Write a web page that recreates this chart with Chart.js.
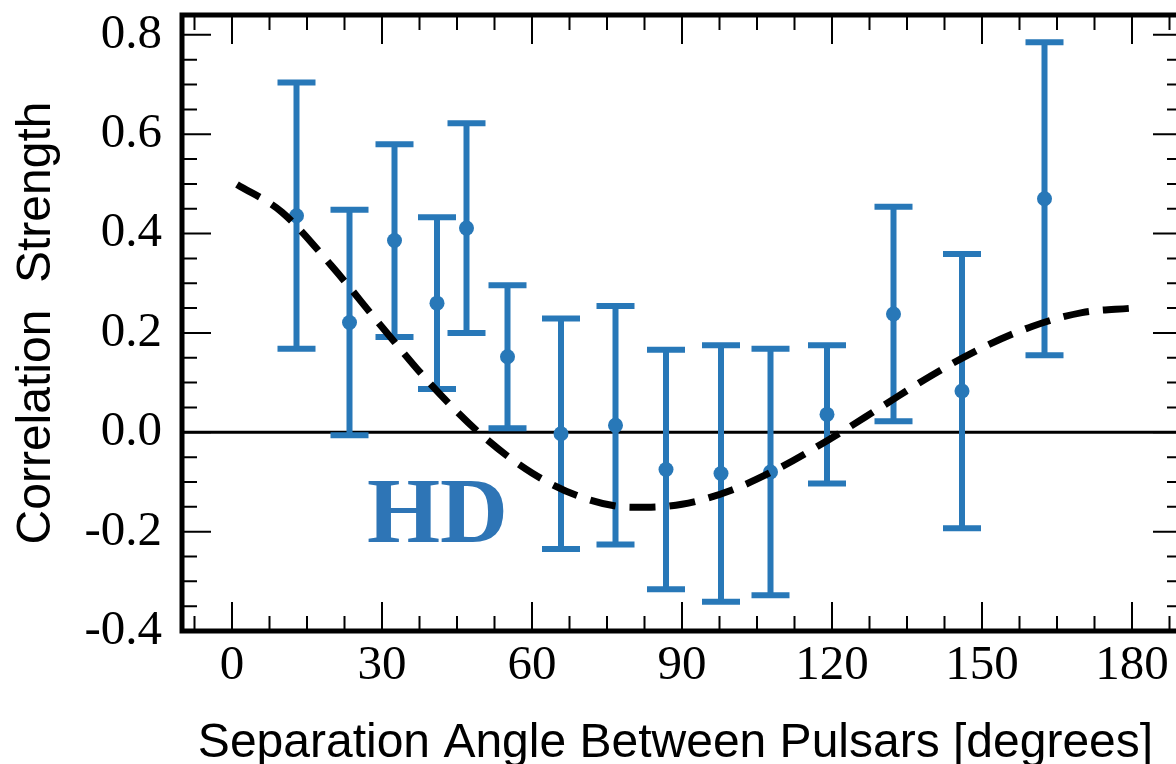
<!DOCTYPE html>
<html>
<head>
<meta charset="utf-8">
<title>Hellings-Downs correlation</title>
<script src="https://cdn.jsdelivr.net/npm/chart.js@4.4.1/dist/chart.umd.min.js"></script>
<style>
  html, body { margin: 0; padding: 0; background: #fff; overflow: hidden; }
  #wrap { width: 1190px; height: 764px; }
</style>
</head>
<body>
<div id="wrap"><canvas id="hdcanvas" width="1190" height="764"></canvas></div>
<script>
// binned pulsar pairs: separation angle [deg], correlation, 1-sigma error
const angles      = [12.9, 23.5, 32.5, 41.0, 46.9, 55.1, 65.8, 76.7, 86.8, 97.8, 107.7, 119.0, 132.3, 146.0, 162.5];
const correlation = [0.436, 0.221, 0.386, 0.260, 0.411, 0.152, -0.003, 0.014, -0.075, -0.083, -0.080, 0.036, 0.238, 0.083, 0.470];
const errors      = [0.268, 0.227, 0.194, 0.173, 0.211, 0.144, 0.232, 0.240, 0.241, 0.258, 0.248, 0.139, 0.216, 0.276, 0.315];

// Hellings-Downs curve, sampled every 10 degrees
const hdAngles = [1, 10, 20, 30, 40, 50, 60, 70, 80, 90, 100, 110, 120, 130, 140, 150, 160, 170, 180];
const hdCurve  = [0.499, 0.443, 0.334, 0.212, 0.094, -0.006, -0.082, -0.131, -0.151, -0.145, -0.116, -0.069, -0.011, 0.052, 0.115, 0.170, 0.213, 0.241, 0.250];

const xTicks = [0, 30, 60, 90, 120, 150, 180];
const yTicks = [-0.4, -0.2, 0.0, 0.2, 0.4, 0.6, 0.8];

const xTitle = 'Separation Angle Between Pulsars [degrees]';

const blue = '#2878b8';
const serif = "'Liberation Serif', 'Times New Roman', serif";
const sans = "'Liberation Sans', Arial, sans-serif";

// zero line, error bars, label, then the boxed frame with inward ticks
const framePlugin = {
	id: 'frame',
	beforeDatasetsDraw(chart) {
		const {ctx, chartArea: a, scales: {x, y}} = chart;
		ctx.save();

		const y0 = y.getPixelForValue(0);
		ctx.strokeStyle = '#000';
		ctx.lineWidth = 3;
		ctx.beginPath();
		ctx.moveTo(a.left, y0);
		ctx.lineTo(a.right, y0);
		ctx.stroke();

		ctx.strokeStyle = blue;
		ctx.lineWidth = 6;
		angles.forEach(function(ang, i) {
			const px = x.getPixelForValue(ang);
			const top = y.getPixelForValue(correlation[i] + errors[i]);
			const bot = y.getPixelForValue(correlation[i] - errors[i]);
			ctx.beginPath();
			ctx.moveTo(px, top);
			ctx.lineTo(px, bot);
			ctx.moveTo(px - 19, top);
			ctx.lineTo(px + 19, top);
			ctx.moveTo(px - 19, bot);
			ctx.lineTo(px + 19, bot);
			ctx.stroke();
		});

		ctx.fillStyle = '#2e75b6';
		ctx.font = 'bold 94px ' + serif;
		ctx.textAlign = 'left';
		ctx.textBaseline = 'alphabetic';
		ctx.fillText('HD', x.getPixelForValue(27), y.getPixelForValue(-0.2216));
		ctx.restore();
	},
	afterDraw(chart) {
		const {ctx, chartArea: a, scales: {x, y}} = chart;
		const major = 29, minor = 15;
		ctx.save();
		ctx.strokeStyle = '#000';
		ctx.lineWidth = 2;
		ctx.beginPath();

		function xTick(v, len) {
			const px = x.getPixelForValue(v);
			ctx.moveTo(px, a.bottom);
			ctx.lineTo(px, a.bottom - len);
			ctx.moveTo(px, a.top);
			ctx.lineTo(px, a.top + len);
		}
		function yTick(v, len) {
			const py = y.getPixelForValue(v);
			ctx.moveTo(a.left, py);
			ctx.lineTo(a.left + len, py);
			ctx.moveTo(a.right, py);
			ctx.lineTo(a.right - len, py);
		}

		xTicks.forEach(function(v) { xTick(v, major); });
		for (let v = -7.5; v < 190; v += 7.5) {
			if (v % 30 !== 0) xTick(v, minor);
		}
		yTicks.forEach(function(v) { yTick(v, major); });
		for (let k = -7; k <= 16; k++) {
			if (k % 4 !== 0) yTick(k * 0.05, minor);
		}
		ctx.stroke();

		ctx.lineWidth = 5;
		ctx.strokeRect(a.left, a.top, a.right - a.left, a.bottom - a.top);

		// x axis title, set on a fixed baseline near the bottom edge
		ctx.fillStyle = '#000';
		ctx.font = '48px ' + sans;
		ctx.textAlign = 'center';
		ctx.textBaseline = 'alphabetic';
		ctx.fillText(xTitle, x.getPixelForValue(88.7), 757);
		ctx.restore();
	}
};

// keep the axes from reserving room for half-labels at their ends
function noEndPadding(scale) {
	scale.paddingTop = 0;
	scale.paddingBottom = 0;
	scale.paddingLeft = 0;
	scale.paddingRight = 0;
}

new Chart(document.getElementById('hdcanvas'), {
	type: 'line',
	data: {
		datasets: [
			{
				label: 'Hellings-Downs',
				data: hdAngles.map(function(a, i) { return {x: a, y: hdCurve[i]}; }),
				borderColor: '#000',
				borderWidth: 7,
				borderDash: [26, 14],
				pointRadius: 0,
				cubicInterpolationMode: 'monotone',
				fill: false,
				order: 0
			},
			{
				label: 'Pulsar pairs',
				data: angles.map(function(a, i) { return {x: a, y: correlation[i]}; }),
				showLine: false,
				pointRadius: 7.5,
				pointBackgroundColor: blue,
				pointBorderColor: blue,
				pointBorderWidth: 0,
				order: 1
			}
		]
	},
	options: {
		responsive: false,
		animation: false,
		devicePixelRatio: 1,
		events: [],
		// right edge of the frame sits just past the visible page
		layout: { padding: { top: 15, right: 8, left: 0, bottom: 0 } },
		plugins: {
			legend: { display: false },
			tooltip: { enabled: false }
		},
		scales: {
			x: {
				type: 'linear',
				min: -10,
				max: 190,
				grid: { display: false, drawTicks: false },
				border: { display: false },
				afterBuildTicks: function(scale) { scale.ticks = xTicks.map(function(v) { return {value: v}; }); },
				afterFit: function(scale) { scale.height = 133; noEndPadding(scale); },
				ticks: {
					padding: 6,
					color: '#000',
					maxRotation: 0,
					autoSkip: false,
					font: { family: serif, size: 49 },
					callback: function(v) { return String(v); }
				},
				title: { display: false }
			},
			y: {
				min: -0.4,
				max: 0.84,
				grid: { display: false, drawTicks: false },
				border: { display: false },
				afterBuildTicks: function(scale) { scale.ticks = yTicks.map(function(v) { return {value: v}; }); },
				afterFit: function(scale) { scale.width = 182; noEndPadding(scale); },
				ticks: {
					padding: 20,
					color: '#000',
					autoSkip: false,
					font: { family: serif, size: 49 },
					callback: function(v) { return v.toFixed(1); }
				},
				title: {
					display: true,
					text: 'Correlation  Strength',
					color: '#000',
					font: { family: sans, size: 48, lineHeight: 1 },
					padding: { top: 13, bottom: 0 }
				}
			}
		}
	},
	plugins: [framePlugin]
});
</script>
</body>
</html>
